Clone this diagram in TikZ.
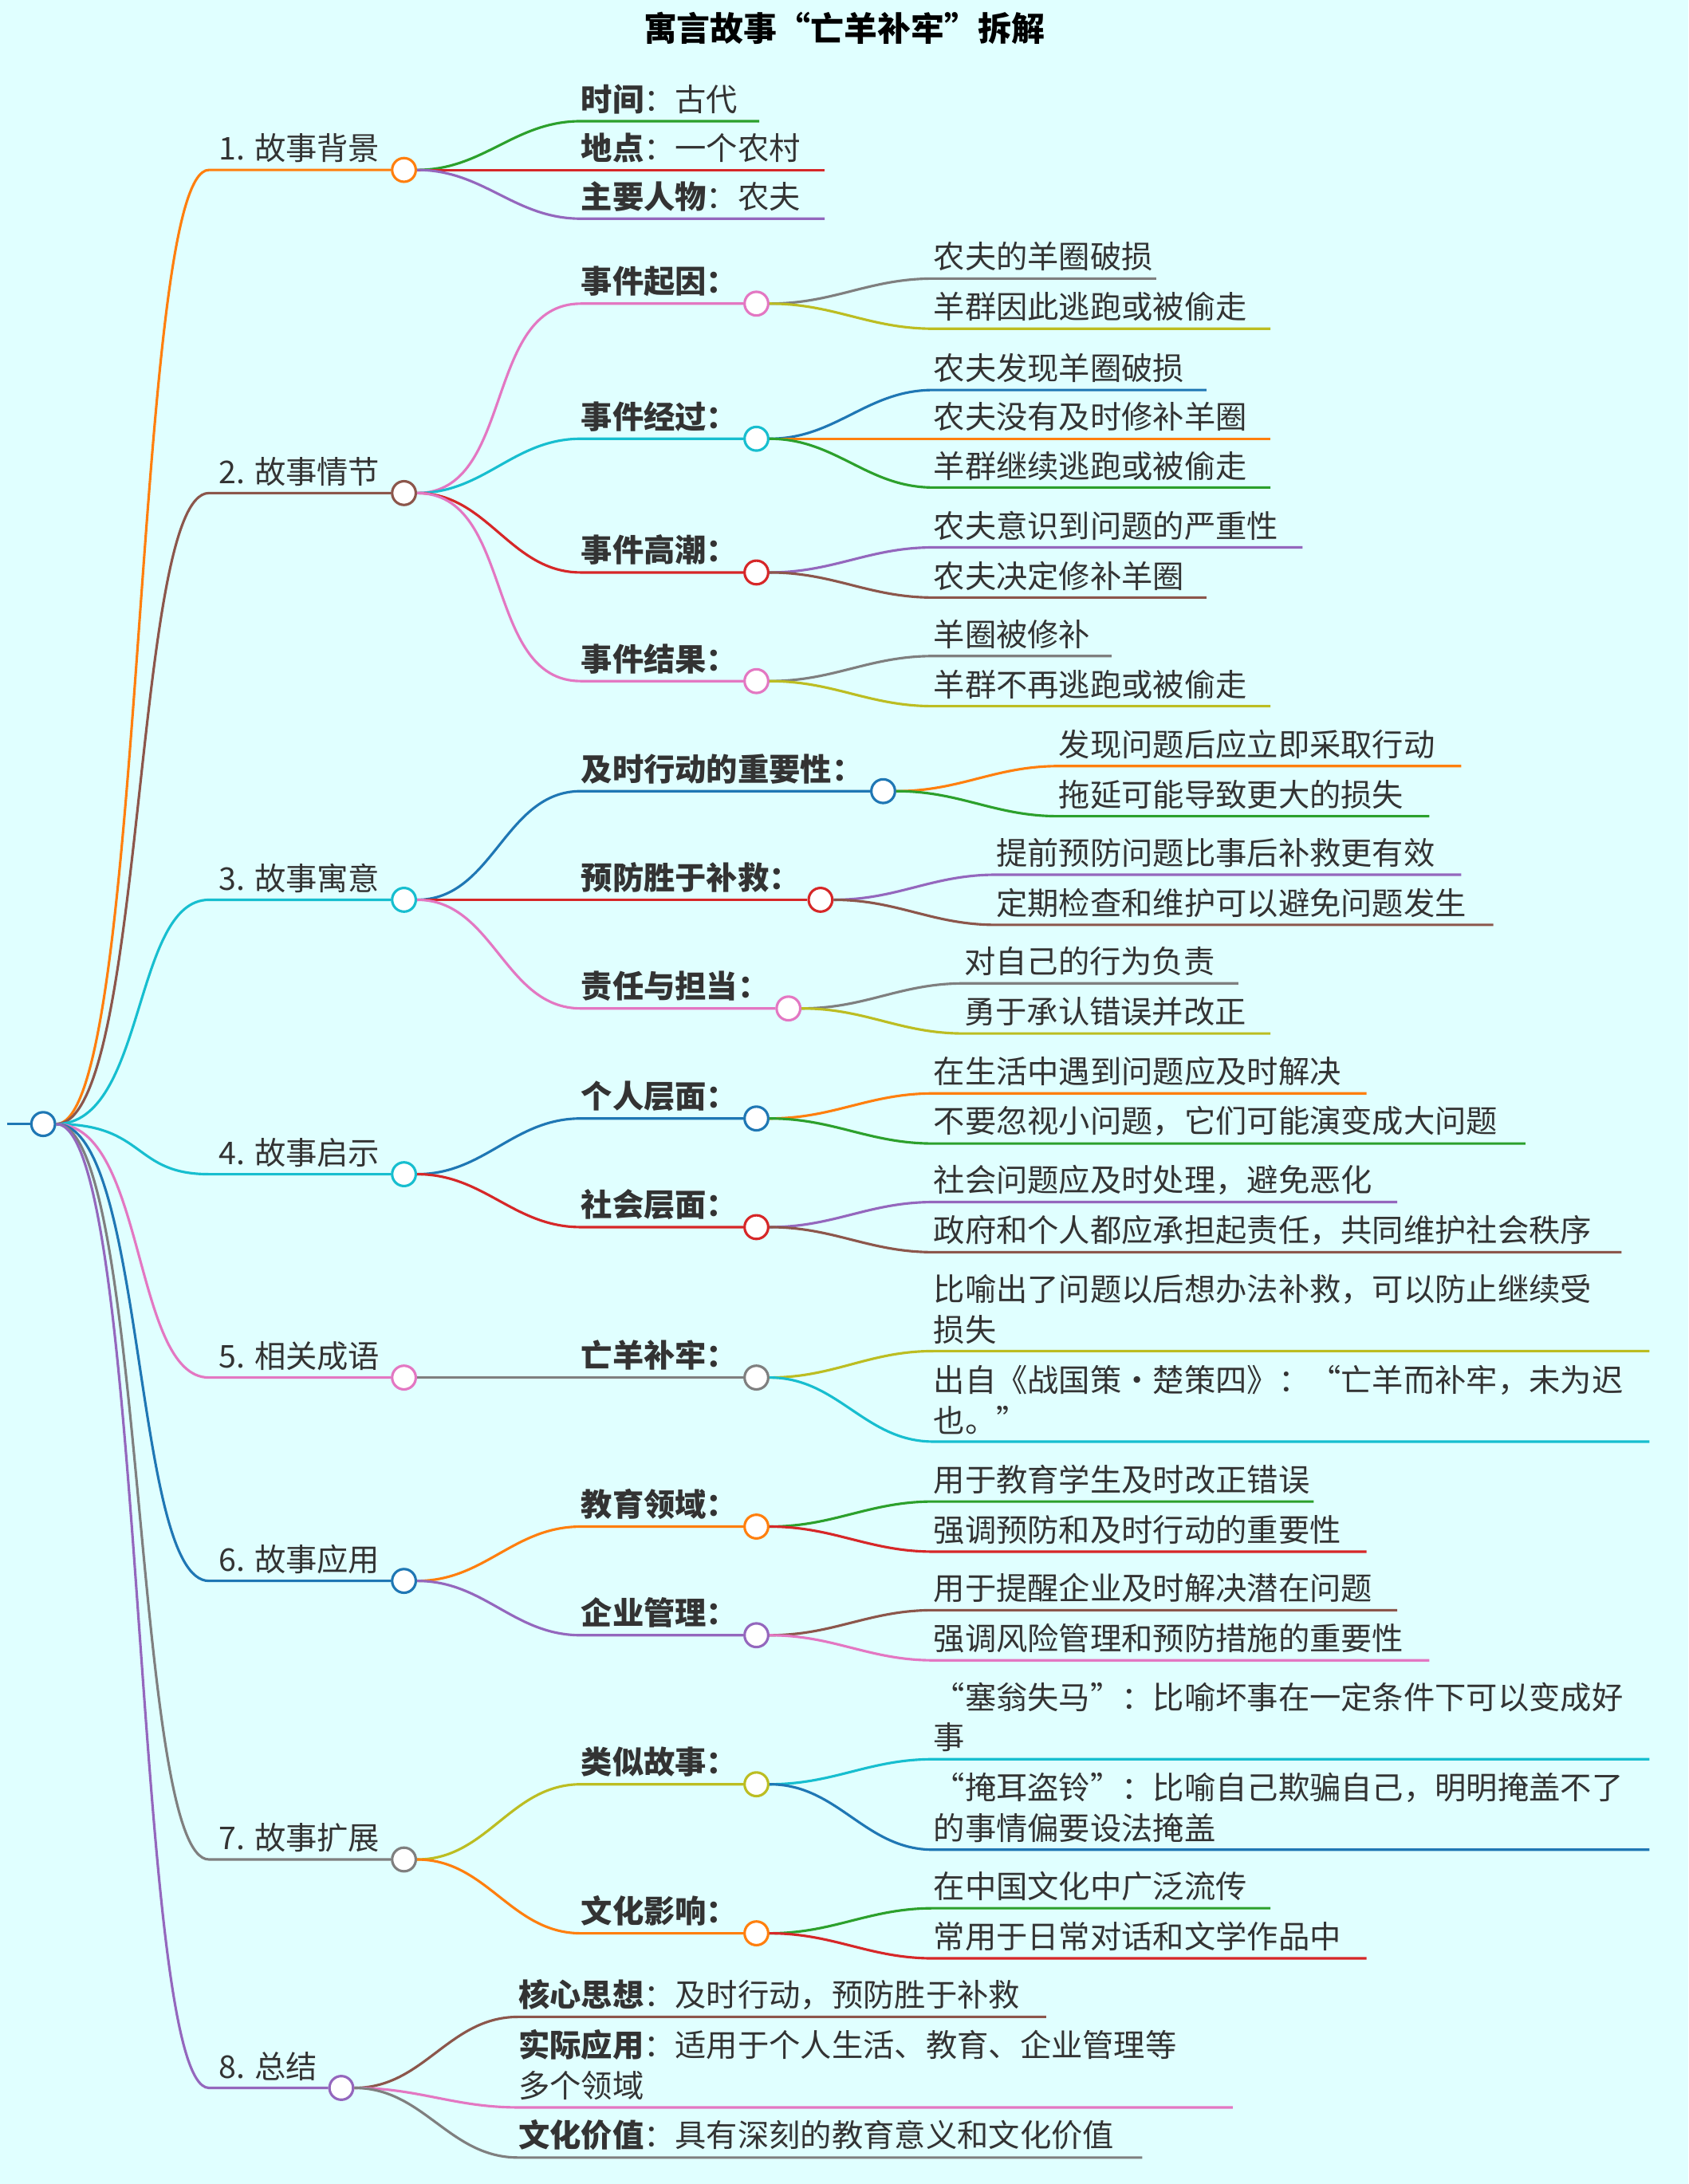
\documentclass[tikz,border=0pt]{standalone}
\usepackage{fontspec}
\setmainfont{Noto Sans CJK SC}
\definecolor{tblue}{HTML}{1F77B4}
\definecolor{torange}{HTML}{FF7F0E}
\definecolor{tgreen}{HTML}{2CA02C}
\definecolor{tred}{HTML}{D62728}
\definecolor{tpurple}{HTML}{9467BD}
\definecolor{tbrown}{HTML}{8C564B}
\definecolor{tpink}{HTML}{E377C2}
\definecolor{tgrey}{HTML}{7F7F7F}
\definecolor{tolive}{HTML}{BCBD22}
\definecolor{tcyan}{HTML}{17BECF}
\definecolor{bgcyan}{HTML}{E0FFFF}
\definecolor{txt}{HTML}{333333}
\tikzset{
  wire/.style={line width=1.8pt},
  hubdot/.style={circle,draw=#1,fill=white,line width=1.8pt,minimum size=17pt,inner sep=0pt},
  lbl/.style={anchor=south west,inner sep=0pt,yshift=5pt,text=txt,align=left,
    font=\fontsize{22.5}{29}\selectfont}
}
% topic: name, x circle, y, colour, text (hangs from the root)
\newcommand\topic[5]{%
  \coordinate (#1-a) at (150,#3);
  \node[hubdot=#4] (#1) at (#2,#3) {};
  \node[lbl] (#1-t) at (157,#3) {#5};
  \draw[wire,#4] (root.east) .. controls (105,807) and (95,#3) .. (#1-a) -- (#1.west);
}
% hub: parent, name, x start, x circle, y, colour, text
\newcommand\hub[7]{%
  \coordinate (#2-a) at (#3,#5);
  \node[hubdot=#6] (#2) at (#4,#5) {};
  \node[lbl] (#2-t) at (#2-a) {#7};
  \draw[wire,#6] (#1.east) to[out=0,in=180] (#2-a) -- (#2.west);
}
% leaf: parent, name, x start, x end, y, colour, text
\newcommand\leaf[7]{%
  \coordinate (#2-a) at (#3,#5);
  \coordinate (#2-b) at (#4,#5);
  \node[lbl] (#2) at (#2-a) {#7};
  \draw[wire,#6] (#1.east) to[out=0,in=180] (#2-a) -- (#2-b);
}
\begin{document}
\begin{tikzpicture}[x=1pt,y=-1pt]
  \fill[bgcyan] (0,0) rectangle (1212,1568);
  \useasboundingbox (0,0) rectangle (1212,1568);

  \node[text=black,font=\fontsize{24}{28}\selectfont\bfseries] (title) at (606,20)
    {寓言故事“亡羊补牢”拆解};

  \node[hubdot=tblue] (root) at (31,807) {};
  \coordinate (root-in) at (5,807);
  \draw[wire,tblue] (root-in) -- (root.west);

  % 1
  \topic{b1}{290}{122}{torange}{1. 故事背景}
  \leaf{b1}{b1a}{417}{545}{87}{tgreen}{\textbf{时间}：古代}
  \leaf{b1}{b1b}{417}{592}{122}{tred}{\textbf{地点}：一个农村}
  \leaf{b1}{b1c}{417}{592}{157}{tpurple}{\textbf{主要人物}：农夫}

  % 2
  \topic{b2}{290}{354}{tbrown}{2. 故事情节}
  \hub{b2}{b2a}{417}{543}{218}{tpink}{\textbf{事件起因：}}
  \leaf{b2a}{b2a1}{670}{830}{200}{tgrey}{农夫的羊圈破损}
  \leaf{b2a}{b2a2}{670}{912}{236}{tolive}{羊群因此逃跑或被偷走}
  \hub{b2}{b2b}{417}{543}{315}{tcyan}{\textbf{事件经过：}}
  \leaf{b2b}{b2b1}{670}{866}{280}{tblue}{农夫发现羊圈破损}
  \leaf{b2b}{b2b2}{670}{912}{315}{torange}{农夫没有及时修补羊圈}
  \leaf{b2b}{b2b3}{670}{912}{350}{tgreen}{羊群继续逃跑或被偷走}
  \hub{b2}{b2c}{417}{543}{411}{tred}{\textbf{事件高潮：}}
  \leaf{b2c}{b2c1}{670}{935}{393}{tpurple}{农夫意识到问题的严重性}
  \leaf{b2c}{b2c2}{670}{866}{429}{tbrown}{农夫决定修补羊圈}
  \hub{b2}{b2d}{417}{543}{489}{tpink}{\textbf{事件结果：}}
  \leaf{b2d}{b2d1}{670}{798}{471}{tgrey}{羊圈被修补}
  \leaf{b2d}{b2d2}{670}{912}{507}{tolive}{羊群不再逃跑或被偷走}

  % 3
  \topic{b3}{290}{646}{tcyan}{3. 故事寓意}
  \hub{b3}{b3a}{417}{634}{568}{tblue}{\textbf{及时行动的重要性：}}
  \leaf{b3a}{b3a1}{760}{1049}{550}{torange}{发现问题后应立即采取行动}
  \leaf{b3a}{b3a2}{760}{1026}{586}{tgreen}{拖延可能导致更大的损失}
  \hub{b3}{b3b}{417}{589}{646}{tred}{\textbf{预防胜于补救：}}
  \leaf{b3b}{b3b1}{715}{1049}{628}{tpurple}{提前预防问题比事后补救更有效}
  \leaf{b3b}{b3b2}{715}{1072}{664}{tbrown}{定期检查和维护可以避免问题发生}
  \hub{b3}{b3c}{417}{566}{724}{tpink}{\textbf{责任与担当：}}
  \leaf{b3c}{b3c1}{692}{889}{706}{tgrey}{对自己的行为负责}
  \leaf{b3c}{b3c2}{692}{912}{742}{tolive}{勇于承认错误并改正}

  % 4
  \topic{b4}{290}{843}{tcyan}{4. 故事启示}
  \hub{b4}{b4a}{417}{543}{803}{tblue}{\textbf{个人层面：}}
  \leaf{b4a}{b4a1}{670}{981}{785}{torange}{在生活中遇到问题应及时解决}
  \leaf{b4a}{b4a2}{670}{1095}{821}{tgreen}{不要忽视小问题，它们可能演变成大问题}
  \hub{b4}{b4b}{417}{543}{881}{tred}{\textbf{社会层面：}}
  \leaf{b4b}{b4b1}{670}{1003}{863}{tpurple}{社会问题应及时处理，避免恶化}
  \leaf{b4b}{b4b2}{670}{1164}{899}{tbrown}{政府和个人都应承担起责任，共同维护社会秩序}

  % 5
  \topic{b5}{290}{989}{tpink}{5. 相关成语}
  \hub{b5}{b5a}{417}{543}{989}{tgrey}{\textbf{亡羊补牢：}}
  \leaf{b5a}{b5a1}{670}{1184}{970}{tolive}{比喻出了问题以后想办法补救，可以防止继续受\\损失}
  \leaf{b5a}{b5a2}{670}{1184}{1035}{tcyan}{出自《战国策·楚策四》：“亡羊而补牢，未为迟\\也。”}

  % 6
  \topic{b6}{290}{1135}{tblue}{6. 故事应用}
  \hub{b6}{b6a}{417}{543}{1096}{torange}{\textbf{教育领域：}}
  \leaf{b6a}{b6a1}{670}{943}{1078}{tgreen}{用于教育学生及时改正错误}
  \leaf{b6a}{b6a2}{670}{981}{1114}{tred}{强调预防和及时行动的重要性}
  \hub{b6}{b6b}{417}{543}{1174}{tpurple}{\textbf{企业管理：}}
  \leaf{b6b}{b6b1}{670}{1003}{1156}{tbrown}{用于提醒企业及时解决潜在问题}
  \leaf{b6b}{b6b2}{670}{1026}{1192}{tpink}{强调风险管理和预防措施的重要性}

  % 7
  \topic{b7}{290}{1335}{tgrey}{7. 故事扩展}
  \hub{b7}{b7a}{417}{543}{1281}{tolive}{\textbf{类似故事：}}
  \leaf{b7a}{b7a1}{670}{1184}{1263}{tcyan}{“塞翁失马”：比喻坏事在一定条件下可以变成好\\事}
  \leaf{b7a}{b7a2}{670}{1184}{1328}{tblue}{“掩耳盗铃”：比喻自己欺骗自己，明明掩盖不了\\的事情偏要设法掩盖}
  \hub{b7}{b7b}{417}{543}{1388}{torange}{\textbf{文化影响：}}
  \leaf{b7b}{b7b1}{670}{912}{1370}{tgreen}{在中国文化中广泛流传}
  \leaf{b7b}{b7b2}{670}{981}{1406}{tred}{常用于日常对话和文学作品中}

  % 8
  \topic{b8}{245}{1499}{tpurple}{8. 总结}
  \leaf{b8}{b8a}{372}{751}{1448}{tbrown}{\textbf{核心思想}：及时行动，预防胜于补救}
  \leaf{b8}{b8b}{372}{885}{1513}{tpink}{\textbf{实际应用}：适用于个人生活、教育、企业管理等\\多个领域}
  \leaf{b8}{b8c}{372}{820}{1549}{tgrey}{\textbf{文化价值}：具有深刻的教育意义和文化价值}
\end{tikzpicture}
\end{document}
